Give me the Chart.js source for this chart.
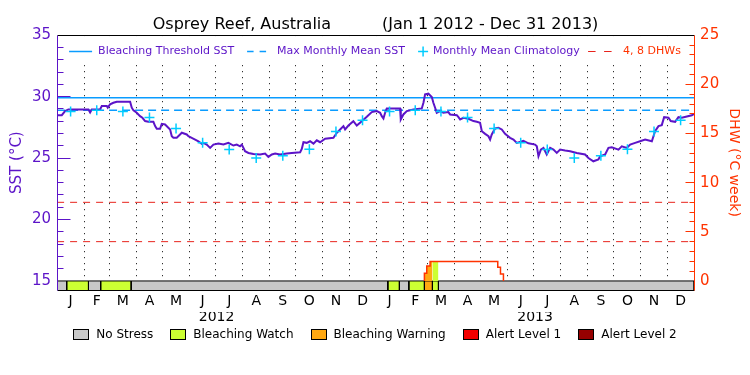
<!DOCTYPE html>
<html>
<head>
<meta charset="utf-8">
<title>Osprey Reef, Australia</title>
<script src="https://cdn.jsdelivr.net/npm/chart.js@4.4.1/dist/chart.umd.min.js"></script>
<style>
  html, body { margin: 0; padding: 0; background: #fff; }
  #chart { display: block; }
</style>
</head>
<body>
<canvas id="chart" width="750" height="375"></canvas>
<script>
/* ---- values (day 0 = Jan 1 2012) ---- */
const chartTitle = 'Osprey Reef, Australia          (Jan 1 2012 - Dec 31 2013)';
const monthLetters = ['J', 'F', 'M', 'A', 'M', 'J', 'J', 'A', 'S', 'O', 'N', 'D'];
const years = [2012, 2013];
const sstTicks = [15, 20, 25, 30, 35];
const dhwTicks = [0, 5, 10, 15, 20, 25];

const sstDay = [
    0, 5.4, 9.2, 13, 36, 37.9, 39.8, 49.3, 51.3, 57,
    58.1, 60.8, 64.6, 68.5, 83.8, 85.7, 87.6, 91.4, 95.2, 97.9,
    101, 104.8, 110.5, 112.5, 114.4, 118.2, 120.1, 123.9, 129.7, 131.6,
    133.5, 137.3, 141.1, 143.1, 148.8, 150.7, 154.5, 158.4, 162.2, 166,
    167.9, 171.7, 175.6, 179.4, 185.1, 190.9, 196.6, 202.3, 206.2, 210,
    212, 215.7, 219.6, 225.3, 233, 238.7, 242.5, 246.4, 250.2, 255.9,
    263.6, 269.3, 278.9, 280.8, 282.7, 286.5, 290.3, 294.2, 298, 301.8,
    307.6, 317.1, 321, 324.8, 328.6, 330.5, 334.3, 340, 343.9, 349.7,
    355.4, 361.1, 366.9, 370.7, 372.6, 374.5, 376.4, 378.3, 393.6, 394.4,
    397.4, 401.3, 408.9, 418.5, 420.4, 422.3, 426.1, 430, 431.8, 433.8,
    435.7, 439.5, 443.3, 449, 451, 458.7, 460.6, 462.5, 466.3, 472,
    477.8, 481.6, 485.4, 487.4, 491.2, 495, 496.9, 498.8, 502.6, 506.4,
    510.3, 514.1, 519.8, 523.7, 527.5, 535.1, 540.9, 548.5, 550.5, 552.4,
    555.1, 558.1, 561.9, 565.8, 569.6, 573.4, 577.2, 583, 588.7, 596.4,
    605.9, 609.7, 615.4, 621.2, 623.1, 628.9, 632.7, 636.5, 644.2, 648,
    653.8, 657.6, 663.3, 669, 674.8, 682.5, 686.2, 690.1, 693.9, 696.6,
    701.6, 704.2, 709.2, 713, 716.9, 722.6, 728.4, 731
];
const sstValue = [
    28.49, 28.49, 28.82, 28.96, 28.96, 28.71, 28.96, 28.96, 29.23, 29.23,
    29.10, 29.37, 29.50, 29.59, 29.59, 29.10, 28.88, 28.69, 28.41, 28.28,
    28.01, 27.95, 27.95, 27.60, 27.38, 27.38, 27.79, 27.73, 27.33, 26.78,
    26.65, 26.65, 26.92, 27.06, 26.92, 26.78, 26.65, 26.51, 26.37, 26.16,
    26.24, 26.10, 25.83, 26.10, 26.18, 26.10, 26.24, 26.02, 26.10, 25.96,
    26.10, 25.56, 25.42, 25.34, 25.29, 25.37, 25.10, 25.29, 25.37, 25.29,
    25.37, 25.42, 25.47, 25.75, 26.29, 26.24, 26.37, 26.18, 26.45, 26.29,
    26.57, 26.65, 27.06, 27.33, 27.60, 27.33, 27.65, 28.00, 27.65, 28.00,
    28.36, 28.74, 28.82, 28.69, 28.41, 28.22, 28.69, 29.04, 29.04, 28.14,
    28.55, 28.82, 28.96, 29.04, 29.50, 30.18, 30.24, 29.97, 29.50, 29.10,
    28.69, 28.82, 28.69, 28.74, 28.55, 28.49, 28.33, 28.14, 28.28, 28.20,
    28.01, 27.95, 27.87, 27.19, 26.97, 26.78, 26.51, 26.92, 27.41, 27.46,
    27.33, 26.97, 26.65, 26.51, 26.24, 26.40, 26.20, 26.10, 25.96, 25.15,
    25.69, 25.83, 25.29, 25.83, 25.69, 25.42, 25.69, 25.61, 25.56, 25.42,
    25.29, 25.01, 24.74, 24.88, 25.15, 25.29, 25.83, 25.88, 25.69, 25.96,
    25.83, 26.10, 26.24, 26.37, 26.51, 26.37, 27.19, 27.60, 27.68, 28.33,
    28.28, 28.01, 27.95, 28.33, 28.28, 28.39, 28.49, 28.60
];

// monthly mean climatology (Jan..Dec), repeated for both years
const climatology = [28.8, 28.9, 28.8, 28.3, 27.4, 26.25, 25.7, 25.0, 25.2, 25.72, 27.17, 28.08];
const maxMonthlyMean = 28.9;
const bleachingThreshold = 29.9;
const dhwGuides = [4, 8];

// degree heating weeks, step values holding from each day on
const dhwDay = [421.5, 421.5, 424.2, 428, 505.7, 508.8, 512.2];
const dhwValue = [0, 0.78, 1.53, 1.97, 1.39, 0.71, 0];

// bleaching alert strip: level holding from each day on
const stressDay = [0, 11, 36, 50, 85, 379.5, 392.8, 403.6, 421.5, 430.7, 437.6];
const stressLevel = [0, 1, 0, 1, 0, 1, 0, 1, 2, 1, 0];
const stressLabels = ['No Stress', 'Bleaching Watch', 'Bleaching Warning', 'Alert Level 1', 'Alert Level 2'];
const stressColors = ['#c8c8c8', '#ccff33', '#ffa812', '#f20000', '#960000'];

/* ---- styling ---- */
const FONT = 'DejaVu Sans';
const purple = '#5c14c8', orangeRed = '#ff3300', blue = '#0a9cff', cyan = '#00ccff', dashRed = '#e8231c';
const SST_MIN = 14.265, DHW_MIN = -0.919;   // axis bottoms sit under the alert strip

/* ---- calendar helpers ---- */
const t0 = Date.UTC(2012, 0, 1);
const dayOf = (y, m, d) => (Date.UTC(y, m, d) - t0) / 86400000;
const lastDay = dayOf(2014, 0, 1);
const monthStarts = [], monthMids = [];
for (const y of years) {
    for (let m = 0; m < 12; m++) {
        const s = dayOf(y, m, 1), e = dayOf(y, m + 1, 1);
        monthStarts.push(s); monthMids.push((s + e) / 2);
    }
}
const yearMids = years.map(y => (dayOf(y, 0, 1) + dayOf(y + 1, 0, 1)) / 2);

function dhwAt(day) {
    let v = 0;
    dhwDay.forEach((d, i) => { if (d <= day) v = dhwValue[i]; });
    return v;
}
function dhwArea(s, e) {
    //outline of the DHW curve between two days, for the coloured fill under it
    const pts = [{x: s, y: dhwAt(s)}];
    dhwDay.forEach((d, i) => { if (d > s && d < e) pts.push({x: d, y: dhwValue[i]}); });
    pts.push({x: e, y: pts[pts.length - 1].y});
    return pts.some(p => p.y > 0) ? pts : null;
}

/* ---- datasets ---- */
const flat = (v) => [{x: 0, y: v}, {x: lastDay, y: v}];
const datasets = [
    {label: 'Monthly Mean Climatology', yAxisID: 'y', order: 1, showLine: false,
     data: monthMids.map((x, i) => ({x, y: climatology[i % 12]})),
     pointStyle: 'cross', pointRadius: 5, pointBorderWidth: 1.5, pointBorderColor: cyan, borderColor: cyan},
    {label: 'SST', yAxisID: 'y', order: 2, data: sstDay.map((x, i) => ({x, y: sstValue[i]})),
     borderColor: purple, borderWidth: 2, pointRadius: 0},
    {label: 'DHW', yAxisID: 'yd', order: 3, data: dhwDay.map((x, i) => ({x, y: dhwValue[i]})),
     stepped: true, borderColor: orangeRed, borderWidth: 1.5, pointRadius: 0},
    {label: 'Bleaching Threshold SST', yAxisID: 'y', order: 4, data: flat(bleachingThreshold),
     borderColor: blue, borderWidth: 1.5, pointRadius: 0},
    {label: 'Max Monthly Mean SST', yAxisID: 'y', order: 4, data: flat(maxMonthlyMean),
     borderColor: blue, borderWidth: 1.5, borderDash: [8, 5], pointRadius: 0}
];
for (const v of dhwGuides) {
    datasets.push({label: v + ' DHW', yAxisID: 'yd', order: 5, data: flat(v),
        borderColor: dashRed, borderWidth: 1, borderDash: [7, 6], pointRadius: 0});
}
stressDay.forEach((s, i) => {
    const e = i + 1 < stressDay.length ? stressDay[i + 1] : lastDay;
    const color = stressColors[stressLevel[i]];
    datasets.push({label: stressLabels[stressLevel[i]], yAxisID: 'yd', order: 7,
        data: [{x: s, y: DHW_MIN}, {x: s, y: 0}, {x: e, y: 0}, {x: e, y: DHW_MIN}],
        borderColor: '#000', borderWidth: 1, backgroundColor: color, fill: 'start', pointRadius: 0});
    const area = stressLevel[i] > 0 ? dhwArea(s, e) : null;
    if (area) {
        datasets.push({label: 'dhw fill', yAxisID: 'yd', order: 6, data: area, stepped: true,
            borderColor: 'rgba(0,0,0,0)', borderWidth: 0, backgroundColor: color, fill: 'origin', pointRadius: 0});
    }
});

/* ---- frame, inward ticks and the two keys ---- */
const px = (p) => Math.round(p - 0.5) + 0.5;
function seg(ctx, x1, y1, x2, y2, color, dash) {
    ctx.beginPath();
    ctx.strokeStyle = color;
    ctx.setLineDash(dash || []);
    ctx.moveTo(x1, y1); ctx.lineTo(x2, y2);
    ctx.stroke();
}

const framePlugin = {
    id: 'frame',
    beforeDatasetsDraw(chart) {
        //keep the month grid out of the key row
        const {ctx, chartArea: a} = chart;
        ctx.save();
        ctx.fillStyle = '#fff';
        ctx.fillRect(a.left + 1, a.top + 1, a.right - a.left - 2, 26);
        ctx.restore();
    },
    afterDatasetsDraw(chart) {
        const {ctx, chartArea: a, scales} = chart;
        const L = px(a.left), R = px(a.right), T = px(a.top), B = px(a.bottom);
        ctx.save();
        ctx.lineWidth = 1;
        seg(ctx, L, T, R, T, '#000');
        seg(ctx, L, B, R, B, '#000');
        seg(ctx, L, T, L, B, purple);
        seg(ctx, R, T, R, B, orangeRed);
        for (let v = 16; v < 35; v++) {
            const y = px(scales.y.getPixelForValue(v));
            seg(ctx, L, y, L + (v % 5 ? 6 : 13), y, purple);
        }
        for (let v = 1; v < 25; v++) {
            const y = px(scales.yd.getPixelForValue(v));
            seg(ctx, R, y, R - (v % 5 ? 5 : 9), y, orangeRed);
        }

        // key inside the plot
        const ky = T + 16, x0 = a.left;
        ctx.font = '11px "' + FONT + '"';
        ctx.textBaseline = 'middle';
        ctx.lineWidth = 1.5;
        seg(ctx, x0 + 12, ky, x0 + 35, ky, blue);
        seg(ctx, x0 + 190, ky, x0 + 209, ky, blue, [6.5, 6]);
        seg(ctx, x0 + 361, ky, x0 + 371, ky, cyan);
        seg(ctx, x0 + 366, ky - 5, x0 + 366, ky + 5, cyan);
        ctx.lineWidth = 1;
        seg(ctx, x0 + 531, ky, x0 + 555, ky, dashRed, [7.5, 8.5]);
        ctx.fillStyle = purple;
        ctx.fillText('Bleaching Threshold SST', x0 + 41, ky);
        ctx.fillText('Max Monthly Mean SST', x0 + 220, ky);
        ctx.fillText('Monthly Mean Climatology', x0 + 376, ky);
        ctx.fillStyle = orangeRed;
        ctx.fillText(dhwGuides.join(', ') + ' DHWs', x0 + 566, ky);
        ctx.restore();
    },
    afterDraw(chart) {
        //alert level key under the year labels
        const {ctx} = chart;
        ctx.save();
        ctx.font = '12px "' + FONT + '"';
        ctx.textBaseline = 'middle';
        const widths = stressLabels.map(t => 16 + 7 + ctx.measureText(t).width);
        const gap = 17;
        let x = chart.width / 2 - (widths.reduce((s, w) => s + w, 0) + gap * (widths.length - 1)) / 2;
        const top = 329;
        stressLabels.forEach((t, i) => {
            ctx.fillStyle = stressColors[i];
            ctx.fillRect(Math.round(x), top, 16, 11);
            ctx.strokeStyle = '#000';
            ctx.lineWidth = 1;
            ctx.strokeRect(Math.round(x) + 0.5, top + 0.5, 15, 10);
            ctx.fillStyle = '#000';
            ctx.fillText(t, x + 23, top + 6);
            x += widths[i] + gap;
        });
        ctx.restore();
    }
};

/* ---- chart ---- */
Chart.defaults.font.family = FONT;

new Chart(document.getElementById('chart'), {
    type: 'line',
    data: {datasets},
    plugins: [framePlugin],
    options: {
        responsive: false, animation: false, events: [],
        layout: {padding: {left: 4, right: 3, top: 6, bottom: 53}},
        plugins: {
            legend: {display: false},
            tooltip: {enabled: false},
            title: {display: true, text: chartTitle, color: '#000',
                font: {size: 16, weight: 'normal'}, padding: {top: 9, bottom: 1}}
        },
        scales: {
            x: {
                type: 'linear', position: 'bottom', min: 0, max: lastDay, weight: 0,
                afterBuildTicks: (s) => { s.ticks = monthStarts.filter(d => d > 0).map(v => ({value: v})); },
                ticks: {display: false},
                grid: {color: '#000', lineWidth: 1, drawTicks: false},
                border: {display: false, dash: [1, 5]}
            },
            xm: {
                type: 'linear', position: 'bottom', min: 0, max: lastDay, weight: 1,
                afterBuildTicks: (s) => { s.ticks = monthMids.map(v => ({value: v})); },
                ticks: {callback: (v, i) => monthLetters[i % 12], autoSkip: false, maxRotation: 0,
                    color: '#000', font: {size: 14, lineHeight: 1}, padding: 4},
                grid: {display: false, drawTicks: false},
                border: {display: false}
            },
            xy: {
                type: 'linear', position: 'bottom', min: 0, max: lastDay, weight: 2,
                afterBuildTicks: (s) => { s.ticks = yearMids.map(v => ({value: v})); },
                ticks: {callback: (v, i) => String(years[i]), autoSkip: false, maxRotation: 0,
                    color: '#000', font: {size: 14, lineHeight: 1}, padding: -2},
                grid: {display: false, drawTicks: false},
                border: {display: false}
            },
            y: {
                position: 'left', min: SST_MIN, max: 35,
                afterBuildTicks: (s) => { s.ticks = sstTicks.map(v => ({value: v})); },
                ticks: {color: purple, font: {size: 15}, padding: 6},
                grid: {display: false, drawTicks: false},
                border: {display: false},
                title: {display: true, text: 'SST (°C)', color: purple, font: {size: 15},
                    padding: {top: 4, bottom: 0}}
            },
            yd: {
                position: 'right', min: DHW_MIN, max: 25,
                afterBuildTicks: (s) => { s.ticks = dhwTicks.map(v => ({value: v})); },
                ticks: {color: orangeRed, font: {size: 15}, padding: 6},
                grid: {display: false, drawTicks: false},
                border: {display: false},
                title: {display: true, text: 'DHW (°C week)', color: orangeRed, font: {size: 14},
                    padding: {top: 5, bottom: 0}}
            }
        }
    }
});
</script>
</body>
</html>
